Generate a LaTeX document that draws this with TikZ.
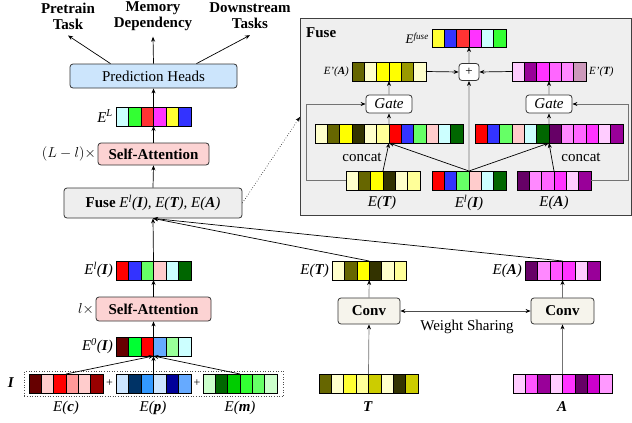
\documentclass[tikz,border=0pt]{standalone}
\usepackage{fontspec}
\setmainfont{Liberation Serif}
\usetikzlibrary{arrows.meta,calc}
\newcommand{\bi}[1]{\textbf{\textit{#1}}}
\newcommand{\vecbar}[7]{%
  \foreach \c [count=\i from 0] in {#7}{%
    \definecolor{tmpc}{HTML}{\c}%
    \filldraw[fill=tmpc, draw=black, line width=0.6pt] ({#2+\i*#4},#3) rectangle ++(#4,#5);
  }
  \node[draw=black, line width=0.9pt, inner sep=0pt, outer sep=0pt, anchor=north west,
        minimum width={#6*#4*1pt}, minimum height={#5*1pt}] (#1) at (#2,#3) {};
}
\definecolor{phblue}{HTML}{CCE5FC}
\definecolor{sapink}{HTML}{FCD3D3}
\definecolor{fusegray}{HTML}{EEEEEE}
\definecolor{convbg}{HTML}{F6F4EC}
\definecolor{insetbg}{HTML}{EFEFEF}
\begin{document}
\begin{tikzpicture}[x=1pt,y=-1pt,
  every node/.style={font=\fontsize{15}{16}\selectfont},
  box/.style={draw=black!80, rounded corners=3pt, line width=0.8pt, inner sep=0pt},
  arr/.style={-{Stealth[length=5pt,width=4pt]}, line width=0.7pt},
  garr/.style={draw=black!55, line width=0.7pt, -{Stealth[length=5pt,width=4pt,color=black]}},
  lbl/.style={inner sep=1pt},
  small/.style={inner sep=1pt, font=\fontsize{11}{12}\selectfont}
]
\useasboundingbox (0,0) rectangle (632,423);

% ---------------- top labels
\node[align=center, inner sep=1pt] (pt) at (68,16) {\textbf{Pretrain}\\\textbf{Task}};
\node[align=center, inner sep=1pt] (md) at (153,16) {\textbf{Memory}\\\textbf{Dependency}};
\node[align=center, inner sep=1pt] (dt) at (250,16) {\textbf{Downstream}\\\textbf{Tasks}};

% ---------------- main column
\node[box, fill=phblue, minimum width=167pt, minimum height=24pt] (ph) at (153.5,76) {Prediction Heads};
\vecbar{EL}{116}{107}{12.5}{19}{6}{CCFFFF,33FF33,FF3333,FF33FF,FFFF33,3333FF}
\node[lbl, anchor=east] (ELl) at (114,116) {\textit{E\textsuperscript{L}}};
\node[box, fill=sapink, minimum width=111pt, minimum height=22pt] (sa2) at (153.5,154) {\textbf{Self-Attention}};
\node[lbl, anchor=east] (sa2l) at (97,154) {$(L-l)\times$};
\node[box, fill=fusegray, minimum width=178pt, minimum height=30pt] (fuse) at (153,203)
  {\textbf{Fuse} \textit{E\textsuperscript{l}(\textbf{I}), E(\textbf{T}), E(\textbf{A})}};
\vecbar{Eli}{116}{261}{12.5}{19}{6}{FF0000,3333FF,66FF66,FFCCCC,CCFFFF,006600}
\node[lbl, anchor=east] (Elil) at (114,270) {\textit{E\textsuperscript{l}(\textbf{I})}};
\node[box, fill=sapink, minimum width=115pt, minimum height=24pt] (sa1) at (153.5,309) {\textbf{Self-Attention}};
\node[lbl, anchor=east] (sa1l) at (95,309) {$l\times$};
\vecbar{E0}{116}{337}{12.5}{19}{6}{660000,00FF33,FF0000,66AAFF,99FF99,CCFFFF}
\node[lbl, anchor=east] (E0l) at (114,346) {\textit{E\textsuperscript{0}(\textbf{I})}};

% input embeddings
\node[draw=black!70, dotted, line width=0.6pt, minimum width=259pt, minimum height=25pt, inner sep=0pt, anchor=north west] (ibox) at (24,371) {};
\vecbar{Ec}{29}{374}{12.33}{19}{6}{660000,FFCCCC,FF0000,FF9999,FFCCCC,990000}
\vecbar{Ep}{116}{374}{12.5}{19}{6}{CCE5FF,003366,3399FF,CCE5FF,000099,66AAFF}
\vecbar{Em}{203}{374}{12.33}{19}{6}{CCFFCC,006600,00CC00,33FF33,66FF66,CCFFCC}
\node[lbl] (p1) at (109.5,383.5) {\fontsize{12}{12}\selectfont +};
\node[lbl] (p2) at (197,383.5) {\fontsize{12}{12}\selectfont +};
\node[lbl] (Il) at (11,383) {\bi{I}};
\node[lbl] (Ecl) at (66,408) {\textit{E(\textbf{c})}};
\node[lbl] (Epl) at (153,408) {\textit{E(\textbf{p})}};
\node[lbl] (Eml) at (240,408) {\textit{E(\textbf{m})}};

% ---------------- right part: text & audio
\vecbar{ET}{332}{261}{12.4}{19}{6}{FFFFCC,666600,FFFF00,333300,FFFFCC,FFFF99}
\node[lbl, anchor=east] (ETl) at (330,271) {\textit{E(\textbf{T})}};
\vecbar{EA}{525}{261}{12.5}{19}{6}{660066,FF88FF,FF55FF,FF33FF,FFCCFF,990099}
\node[lbl, anchor=east] (EAl) at (523,271) {\textit{E(\textbf{A})}};
\node[box, fill=convbg, minimum width=62pt, minimum height=26pt] (convT) at (369,311) {\textbf{Conv}};
\node[box, fill=convbg, minimum width=63pt, minimum height=26pt] (convA) at (562.5,311) {\textbf{Conv}};
\node[lbl] (ws) at (467,327) {Weight Sharing};
\vecbar{T}{319}{374}{12.375}{19}{8}{666600,FFFFCC,FFFF33,FFFF99,CCCC00,FFFFCC,333300,CCCC00}
\vecbar{A}{513}{374}{12.375}{19}{8}{FFCCFF,FF55FF,990099,FFCCFF,FF33FF,660066,CC00CC,FF99FF}
\node[lbl] (Tl) at (368,407) {\bi{T}};
\node[lbl] (Al) at (562,407) {\bi{A}};

% ---------------- inset
\node[draw=black!75, fill=insetbg, line width=0.8pt, minimum width=331pt, minimum height=197pt, inner sep=0pt, anchor=north west] (inset) at (300,18) {};
\node[lbl, anchor=west] (fusel) at (305,33) {\textbf{Fuse}};
\vecbar{Efu}{432}{29}{12.33}{18}{6}{FFFF33,3333FF,FF3333,FF33FF,CCFFFF,33FF33}
\node[lbl, anchor=east, font=\fontsize{13}{14}\selectfont] (Efl) at (430,38) {\textit{E\textsuperscript{fuse}}};
\vecbar{EpA}{352}{62}{12.33}{19}{6}{666600,FFFFCC,FFFF00,FFFF00,999900,FFFFCC}
\node[small, anchor=east] (EpAl) at (350,72) {\textit{E'(\textbf{A})}};
\node[box, fill=white, minimum width=20pt, minimum height=17pt] (plus) at (469,72) {\fontsize{13}{13}\selectfont +};
\vecbar{EpT}{512}{62}{12.33}{19}{6}{FFCCFF,990099,FF33FF,FF66FF,FF88FF,CC99BB}
\node[small, anchor=west] (EpTl) at (588,72) {\textit{E'(\textbf{T})}};
\node[box, fill=white, minimum width=46pt, minimum height=18pt] (gateL) at (389,104) {\textit{Gate}};
\node[box, fill=white, minimum width=46pt, minimum height=18pt] (gateR) at (549,104) {\textit{Gate}};
\vecbar{catL}{315}{124}{12.33}{19}{12}{FFFFCC,666600,FFFF00,333300,FFFFCC,FFFF99,FF0000,3333FF,66FF66,FFCCCC,CCFFFF,006600}
\vecbar{catR}{475}{124}{12.33}{19}{12}{FF0000,3333FF,66FF66,FFCCCC,CCFFFF,006600,660066,FF88FF,FF66FF,FF33FF,FFCCFF,990099}
\node[lbl] (ccL) at (362,157) {concat};
\node[lbl] (ccR) at (581,157) {concat};
\vecbar{iET}{346}{171}{12.33}{19}{6}{FFFFCC,666600,FFFF00,333300,FFFFCC,FFFF99}
\vecbar{iEl}{432}{171}{12.33}{19}{6}{FF0000,3333FF,66FF66,FFCCCC,CCFFFF,006600}
\vecbar{iEA}{517}{171}{12.33}{19}{6}{660066,FF88FF,FF66FF,FF33FF,FFCCFF,990099}
\node[lbl] (iETl) at (382,203) {\textit{E(\textbf{T})}};
\node[lbl] (iEll) at (469,203) {\textit{E\textsuperscript{l}(\textbf{I})}};
\node[lbl] (iEAl) at (554,203) {\textit{E(\textbf{A})}};
\coordinate (loopL) at (306,0);
\coordinate (loopR) at (628,0);

% ---------------- connectors: main
\draw[arr] ([xshift=-43pt]ph.north) -- ([yshift=-5pt]pt.south);
\draw[arr] (ph.north) -- ([yshift=-5pt]md.south);
\draw[arr] ([xshift=43pt]ph.north) -- ([yshift=-5pt]dt.south);
\draw[arr] (EL.north) -- (ph.south);
\draw[arr] (sa2.north) -- (EL.south);
\draw[arr] (fuse.north) -- (sa2.south);
\draw[arr] (Eli.north) -- (fuse.south);
\draw[arr] (ET.north) -- (fuse.south);
\draw[arr] (EA.north) -- (fuse.south);
\draw[arr] (sa1.north) -- (Eli.south);
\draw[arr] (E0.north) -- (sa1.south);
\draw[arr] (Ec.north) -- (E0.south);
\draw[arr] (Ep.north) -- (E0.south);
\draw[arr] (Em.north) -- (E0.south);
\draw[dotted, line width=0.6pt, -{Stealth[length=5pt,width=4pt]}] (fuse.east) -- (inset.west);

% right part
\draw[garr] (T.north) -- (convT.south);
\draw[garr] (convT.north) -- (ET.south);
\draw[garr] (A.north) -- (convA.south);
\draw[garr] (convA.north) -- (EA.south);
\draw[draw=black!70, line width=0.7pt, {Stealth[length=5pt,width=4pt,color=black]}-{Stealth[length=5pt,width=4pt,color=black]}] (convT.east) -- (convA.west);

% inset
\draw[garr] (iET.west) -- (iET.west -| loopL) |- (gateL.west);
\draw[garr] (iEA.east) -- (iEA.east -| loopR) |- (gateR.east);
\draw[arr] (iET.north) -- (catL.south);
\draw[arr] (iEl.north) -- (catL.south);
\draw[arr] (iEl.north) -- (catR.south);
\draw[arr] (iEA.north) -- (catR.south);
\draw[garr] (iEl.north) -- (plus.south);
\draw[garr] (catL.north) -- (gateL.south);
\draw[garr] (catR.north) -- (gateR.south);
\draw[garr] (gateL.north) -- (EpA.south);
\draw[garr] (gateR.north) -- (EpT.south);
\draw[arr] (EpA.east) -- (plus.west);
\draw[arr] (EpT.west) -- (plus.east);
\draw[garr] (plus.north) -- (Efu.south);
\end{tikzpicture}
\end{document}
